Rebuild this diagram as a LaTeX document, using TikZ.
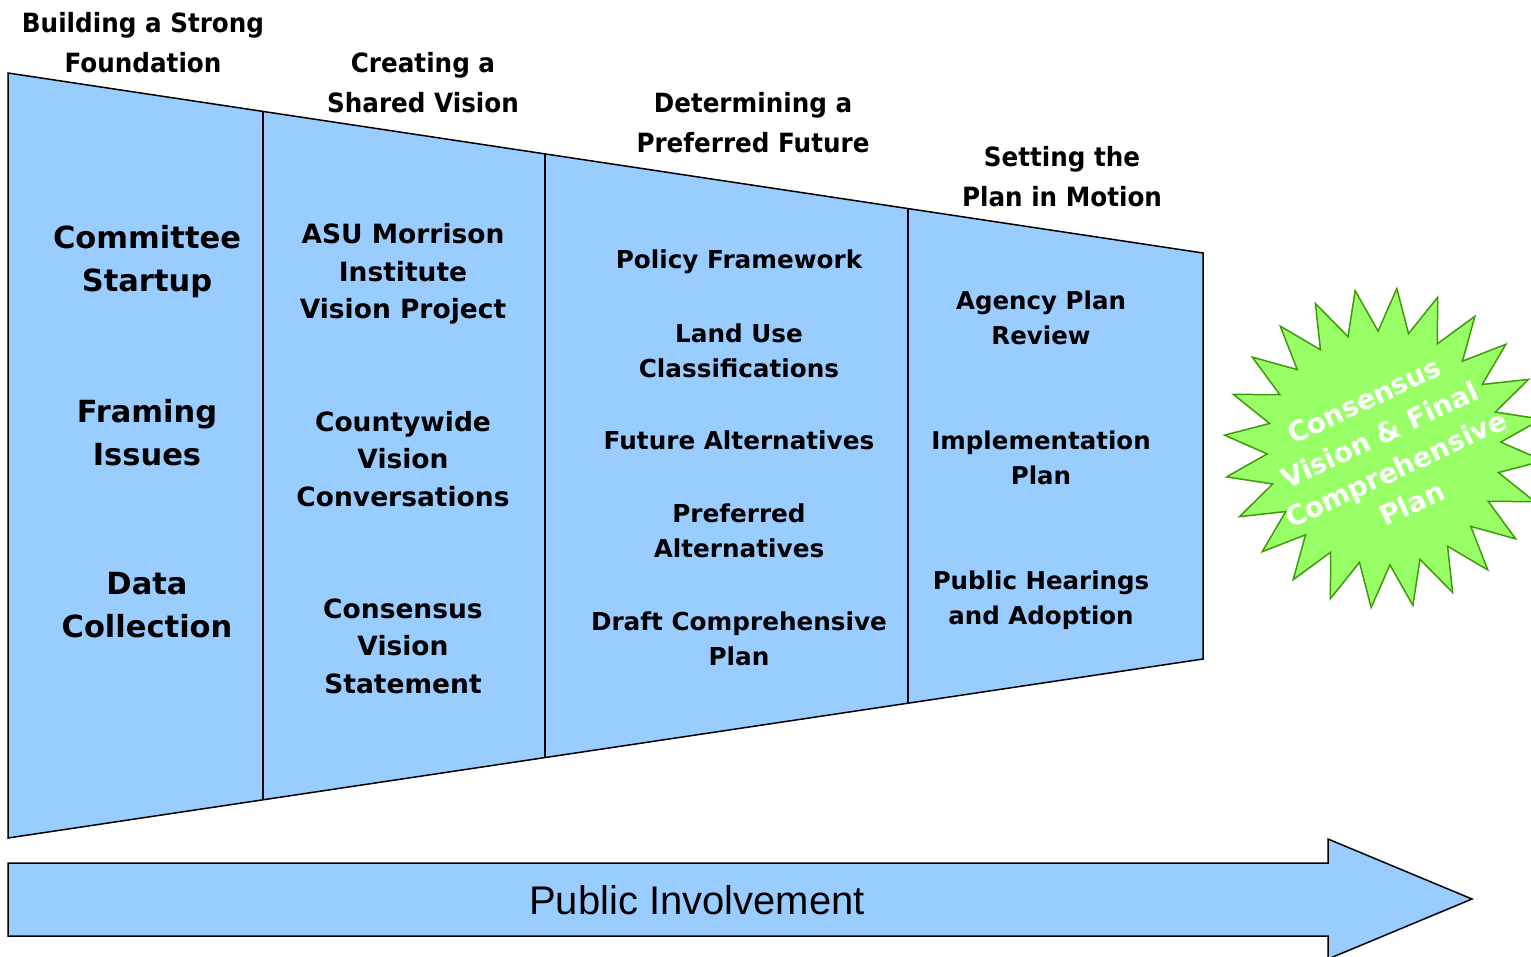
\documentclass[tikz,border=0pt]{standalone}
\usepackage{fontspec}
\setmainfont{DejaVu Sans}
\newfontfamily\arialfont{Liberation Sans}
\newfontfamily\headfont[FakeStretch=0.93]{DejaVu Sans}
\usetikzlibrary{calc}
\definecolor{funnelblue}{HTML}{99CCFF}
\definecolor{burstfill}{HTML}{99FF66}
\definecolor{burstline}{HTML}{3D9A0A}
\tikzset{
  headtxt/.style={align=center,inner sep=0pt,font=\headfont\bfseries\fontsize{26.5}{40}\selectfont},
  colone/.style={align=center,inner sep=0pt,font=\bfseries\fontsize{30.5}{43}\selectfont},
  coltwo/.style={align=center,inner sep=0pt,font=\bfseries\fontsize{26.5}{37.5}\selectfont},
  colthree/.style={align=center,inner sep=0pt,font=\bfseries\fontsize{24.7}{35}\selectfont},
  colfour/.style={align=center,inner sep=0pt,font=\bfseries\fontsize{24.5}{35}\selectfont},
  shapeline/.style={draw=black,line width=1.5pt,line join=miter},
}
\begin{document}
\begin{tikzpicture}[x=1pt,y=-1pt]
\useasboundingbox (0,0) rectangle (1531,956);
% funnel
\coordinate (tl) at (8,73);
\coordinate (tr) at (1203,253);
\coordinate (bl) at (8,838);
\coordinate (br) at (1203,659);
\fill[funnelblue] (tl) -- (tr) -- (br) -- (bl) -- cycle;
\draw[shapeline] (tl) -- (tr) -- (br) -- (bl) -- cycle;
\foreach \f/\n in {0.2134/a,0.4494/b,0.7531/c}{
  \coordinate (t\n) at ($(tl)!\f!(tr)$);
  \coordinate (b\n) at ($(bl)!\f!(br)$);
  \draw[shapeline] (t\n) -- (b\n);
}
% headings
\node[headtxt] (h1) at (143,43) {Building a Strong\\Foundation};
\node[headtxt] (h2) at (423,83) {Creating a\\Shared Vision};
\node[headtxt] (h3) at (753,123) {Determining a\\Preferred Future};
\node[headtxt] (h4) at (1062,177) {Setting the\\Plan in Motion};
% column 1
\node[colone] (c1a) at (147,261.5) {Committee\\Startup};
\node[colone] (c1b) at (147,433) {Framing\\Issues};
\node[colone] (c1c) at (147,605) {Data\\Collection};
% column 2
\node[coltwo] (c2a) at (403,274) {ASU Morrison\\Institute\\Vision Project};
\node[coltwo] (c2b) at (403,459) {Countywide\\Vision\\Conversations};
\node[coltwo] (c2c) at (403,646) {Consensus\\Vision\\Statement};
% column 3
\node[colthree] (c3a) at (739,262) {Policy Framework};
\node[colthree] (c3b) at (739,350.5) {Land Use\\Classifications};
\node[colthree] (c3c) at (739,440) {Future Alternatives};
\node[colthree] (c3d) at (739,530.5) {Preferred\\Alternatives};
\node[colthree] (c3e) at (739,638.5) {Draft Comprehensive\\Plan};
% column 4
\node[colfour] (c4a) at (1041,317.5) {Agency Plan\\Review};
\node[colfour] (c4b) at (1041,457.5) {Implementation\\Plan};
\node[colfour] (c4c) at (1041,600) {Public Hearings\\and Adoption};
% arrow
\fill[funnelblue] (8,863) -- (1328,863) -- (1328,839) -- (1472,899) -- (1328,959) -- (1328,936) -- (8,936) -- cycle;
\draw[shapeline] (8,863) -- (1328,863) -- (1328,839) -- (1472,899) -- (1328,959) -- (1328,936) -- (8,936) -- cycle;
\node[inner sep=0pt,font=\arialfont\fontsize{40}{46}\selectfont] (pi) at (697,900) {Public Involvement};
% starburst
\coordinate (sc) at (1384,448);
\filldraw[fill=burstfill,draw=burstline,line width=1.5pt,line join=miter]
  ($(sc)+(85.4:160 and -160)$)
  \foreach \k in {0,...,23}{
    -- ($(sc)+({85.4-\k*15-7.5}:117 and -117)$)
    -- ($(sc)+({85.4-(\k+1)*15}:160 and -160)$)
  } -- cycle;
\node[align=center,inner sep=0pt,text=white,rotate=25,font=\bfseries\fontsize{27.5}{37.8}\selectfont] (burst) at (1388,452) {Consensus\\Vision \& Final\\Comprehensive\\Plan};
\end{tikzpicture}
\end{document}
